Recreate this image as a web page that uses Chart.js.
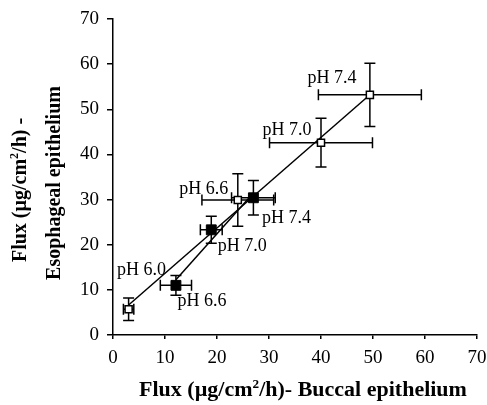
<!DOCTYPE html>
<html lang="en">
<head>
<meta charset="utf-8" />
<title>Flux buccal vs esophageal</title>
<style>
  * { margin: 0; padding: 0; }
  body { background: white; }
  .chartBox { width: 487px; height: 405px; }
</style>
</head>
<body>
<div class="chartBox"><canvas id="myChart"></canvas></div>
<script src="https://cdn.jsdelivr.net/npm/chart.js"></script>
<script>
  // open squares
  const openPH = ["pH 6.0", "pH 6.6", "pH 7.0", "pH 7.4"];
  const openX = [3.0, 24.0, 40.0, 49.4];
  const openY = [5.7, 29.9, 42.6, 53.2];
  const openXErr = [1.0, 6.9, 9.9, 9.9];
  const openYErr = [2.5, 5.8, 5.4, 7.0];

  // filled squares
  const filledPH = ["pH 6.6", "pH 7.0", "pH 7.4"];
  const filledX = [12.1, 18.9, 27.0];
  const filledY = [11.0, 23.3, 30.4];
  const filledXErr = [3.0, 2.1, 4.2];
  const filledYErr = [2.2, 3.0, 3.8];

  const axisTicks = [0, 10, 20, 30, 40, 50, 60, 70];

  const xTitle = ["Flux (\u00b5g/cm", "2", "/h)- Buccal epithelium"];
  const yTitle1 = ["Flux (\u00b5g/cm", "2", "/h) -"];
  const yTitle2 = ["Esophageal epithelium"];

  // pixel offsets of the pH labels from their points
  const openLabelOffset = [[13, -38], [-34, -10], [-34, -12], [-38, -16]];
  const filledLabelOffset = [[26, 17], [31, 17], [33, 21]];

  const serif = "'Liberation Serif', 'Times New Roman', serif";

  function pts(xs, ys) {
    return xs.map((v, i) => ({ x: v, y: ys[i] }));
  }

  // least squares trend line over the range of the points
  function trend(xs, ys) {
    const n = xs.length;
    const mx = xs.reduce((a, b) => a + b, 0) / n;
    const my = ys.reduce((a, b) => a + b, 0) / n;
    let sxy = 0, sxx = 0;
    for (let i = 0; i < n; i++) {
      sxy += (xs[i] - mx) * (ys[i] - my);
      sxx += (xs[i] - mx) * (xs[i] - mx);
    }
    const m = sxy / sxx;
    const b = my - m * mx;
    const lo = Math.min(...xs), hi = Math.max(...xs);
    return [{ x: lo, y: m * lo + b }, { x: hi, y: m * hi + b }];
  }

  const errorBars = {
    id: "errorBars",
    beforeDatasetsDraw(chart) {
      const { ctx, scales: { x, y } } = chart;
      const sets = [
        [openX, openY, openXErr, openYErr],
        [filledX, filledY, filledXErr, filledYErr],
      ];
      ctx.save();
      ctx.strokeStyle = "black";
      ctx.lineWidth = 1.5;
      const cap = 5.5;
      sets.forEach(([xs, ys, xe, ye]) => {
        xs.forEach((v, i) => {
          const px = x.getPixelForValue(v);
          const py = y.getPixelForValue(ys[i]);
          const x1 = x.getPixelForValue(v - xe[i]);
          const x2 = x.getPixelForValue(v + xe[i]);
          const y1 = y.getPixelForValue(ys[i] + ye[i]);
          const y2 = y.getPixelForValue(ys[i] - ye[i]);
          ctx.beginPath();
          ctx.moveTo(x1, py); ctx.lineTo(x2, py);
          ctx.moveTo(x1, py - cap); ctx.lineTo(x1, py + cap);
          ctx.moveTo(x2, py - cap); ctx.lineTo(x2, py + cap);
          ctx.moveTo(px, y1); ctx.lineTo(px, y2);
          ctx.moveTo(px - cap, y1); ctx.lineTo(px + cap, y1);
          ctx.moveTo(px - cap, y2); ctx.lineTo(px + cap, y2);
          ctx.stroke();
        });
      });
      ctx.restore();
    },
  };

  function drawRich(ctx, parts, size) {
    // parts: [normal, superscript, normal]; drawn centred on 0,0
    const big = "bold " + size + "px " + serif;
    const small = "bold " + Math.round(size * 0.62) + "px " + serif;
    const widths = parts.map((t, i) => {
      ctx.font = i === 1 ? small : big;
      return ctx.measureText(t).width;
    });
    const total = widths.reduce((a, b) => a + b, 0);
    let cx = -total / 2;
    parts.forEach((t, i) => {
      ctx.font = i === 1 ? small : big;
      ctx.fillText(t, cx, i === 1 ? -size * 0.38 : 0);
      cx += widths[i];
    });
  }

  const labelsAndTitles = {
    id: "labelsAndTitles",
    afterDraw(chart) {
      const { ctx, scales: { x, y } } = chart;
      ctx.save();
      ctx.fillStyle = "black";
      ctx.textBaseline = "alphabetic";
      ctx.textAlign = "center";
      ctx.font = "18px " + serif;
      openPH.forEach((t, i) => {
        ctx.fillText(t,
          x.getPixelForValue(openX[i]) + openLabelOffset[i][0],
          y.getPixelForValue(openY[i]) + openLabelOffset[i][1] + 4);
      });
      filledPH.forEach((t, i) => {
        ctx.fillText(t,
          x.getPixelForValue(filledX[i]) + filledLabelOffset[i][0],
          y.getPixelForValue(filledY[i]) + filledLabelOffset[i][1] + 4);
      });

      ctx.textAlign = "left";
      ctx.save();
      ctx.translate(303, 396);
      ctx.scale(1.1, 1);
      drawRich(ctx, xTitle, 20);
      ctx.restore();

      ctx.save();
      ctx.translate(26, 190);
      ctx.rotate(-Math.PI / 2);
      drawRich(ctx, yTitle1, 20);
      ctx.restore();

      ctx.save();
      ctx.translate(60, 183);
      ctx.rotate(-Math.PI / 2);
      ctx.font = "bold 20px " + serif;
      ctx.textAlign = "center";
      ctx.fillText(yTitle2[0], 0, 0);
      ctx.restore();
      ctx.restore();
    },
  };

  const data = {
    datasets: [
      {
        label: "open",
        data: pts(openX, openY),
        pointStyle: "rect",
        pointRadius: 5,
        pointBackgroundColor: "white",
        pointBorderColor: "black",
        pointBorderWidth: 1.5,
        showLine: false,
      },
      {
        label: "filled",
        data: pts(filledX, filledY),
        pointStyle: "rect",
        pointRadius: 7,
        pointBackgroundColor: "black",
        pointBorderColor: "black",
        pointBorderWidth: 1,
        showLine: false,
      },
      {
        label: "open trend",
        data: trend(openX, openY),
        showLine: true,
        borderColor: "black",
        borderWidth: 1.5,
        pointRadius: 0,
      },
      {
        label: "filled trend",
        data: trend(filledX, filledY),
        showLine: true,
        borderColor: "black",
        borderWidth: 1.5,
        pointRadius: 0,
      },
    ],
  };

  const axisCommon = {
    type: "linear",
    min: 0,
    max: 70,
    afterBuildTicks: (scale) => {
      scale.ticks = axisTicks.map((v) => ({ value: v }));
    },
    border: { display: true, color: "black", width: 1.5 },
    ticks: {
      color: "black",
      font: { family: serif, size: 19 },
    },
  };

  const config = {
    type: "scatter",
    data: data,
    options: {
      responsive: true,
      maintainAspectRatio: false,
      animation: false,
      layout: { padding: { top: 19, right: 10, left: 0, bottom: 0 } },
      plugins: {
        legend: { display: false },
        tooltip: { enabled: false },
      },
      scales: {
        x: {
          ...axisCommon,
          grid: { drawOnChartArea: false, drawTicks: true, tickLength: 4, color: "black", lineWidth: 1.5 },
          ticks: { ...axisCommon.ticks, padding: 8, maxRotation: 0 },
          afterFit: (scale) => {
            scale.height = 70;
            scale.paddingLeft = 0;
            scale.paddingRight = 0;
          },
        },
        y: {
          ...axisCommon,
          grid: { drawOnChartArea: false, drawTicks: true, tickLength: 6, color: "black", lineWidth: 1.5 },
          ticks: { ...axisCommon.ticks, padding: 8 },
          afterFit: (scale) => {
            scale.width = 113;
            scale.paddingTop = 0;
            scale.paddingBottom = 0;
          },
        },
      },
    },
    plugins: [errorBars, labelsAndTitles],
  };

  const myChart = new Chart(document.getElementById("myChart"), config);
</script>
</body>
</html>
